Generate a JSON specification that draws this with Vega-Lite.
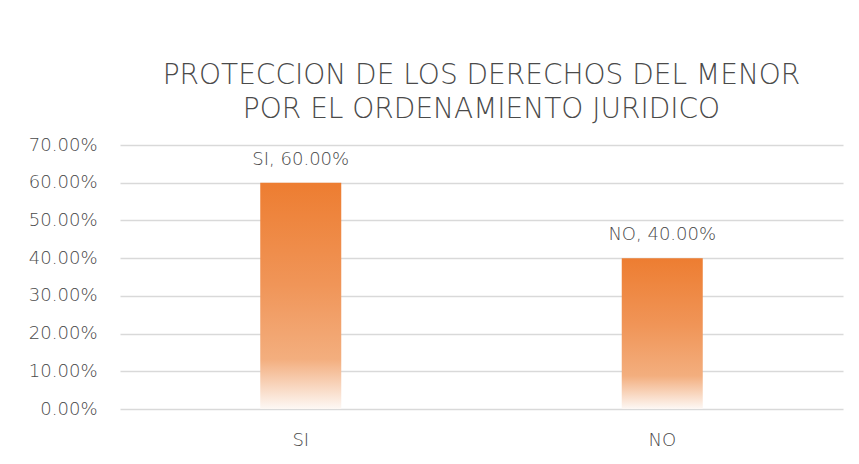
{
  "$schema": "https://vega.github.io/schema/vega-lite/v6.json",
  "width": 723,
  "height": 264,
  "autosize": {"type": "none"},
  "padding": {"left": 120, "top": 145, "right": 16, "bottom": 55},
  "background": "#ffffff",
  "title": {
    "text": ["PROTECCION DE LOS DERECHOS DEL MENOR", "POR EL ORDENAMIENTO JURIDICO"],
    "anchor": "middle",
    "font": "DejaVu Sans",
    "fontSize": 28,
    "fontWeight": 200,
    "color": "#4a4a4a",
    "lineHeight": 34,
    "offset": 12
  },
  "data": {
    "values": [
      {"respuesta": "SI", "porcentaje": 0.6, "etiqueta": "SI, 60.00%"},
      {"respuesta": "NO", "porcentaje": 0.4, "etiqueta": "NO, 40.00%"}
    ]
  },
  "encoding": {
    "x": {
      "field": "respuesta",
      "type": "nominal",
      "sort": ["SI", "NO"],
      "scale": {"paddingInner": 0, "paddingOuter": 0},
      "axis": {
        "title": null,
        "labelAngle": 0,
        "ticks": false,
        "domain": false,
        "labelPadding": 22,
        "labelFont": "DejaVu Sans",
        "labelFontWeight": 200,
        "labelFontSize": 18,
        "labelColor": "#4a4a4a"
      }
    },
    "y": {
      "field": "porcentaje",
      "type": "quantitative",
      "scale": {"domain": [0, 0.7], "nice": false},
      "axis": {
        "title": null,
        "format": ".2%",
        "values": [0, 0.1, 0.2, 0.3, 0.4, 0.5, 0.6, 0.7],
        "labelOverlap": false,
        "labelFlush": false,
        "ticks": false,
        "domain": false,
        "labelPadding": 23,
        "labelFont": "DejaVu Sans",
        "labelFontWeight": 200,
        "labelFontSize": 18,
        "labelColor": "#4a4a4a",
        "gridColor": "#d9d9d9",
        "gridWidth": 1.5
      }
    }
  },
  "layer": [
    {
      "mark": {
        "type": "bar",
        "width": 81,
        "color": {
          "gradient": "linear",
          "x1": 0, "y1": 0, "x2": 0, "y2": 1,
          "stops": [
            {"offset": 0, "color": "#ED7D31"},
            {"offset": 0.45, "color": "#F09558"},
            {"offset": 0.78, "color": "#F3AE7E"},
            {"offset": 1, "color": "#FDF8F5"}
          ]
        }
      }
    },
    {
      "mark": {
        "type": "text",
        "baseline": "alphabetic",
        "dy": -18,
        "font": "DejaVu Sans",
        "fontWeight": 200,
        "fontSize": 18,
        "color": "#4a4a4a"
      },
      "encoding": {"text": {"field": "etiqueta"}}
    }
  ],
  "config": {
    "view": {"stroke": null}
  }
}
